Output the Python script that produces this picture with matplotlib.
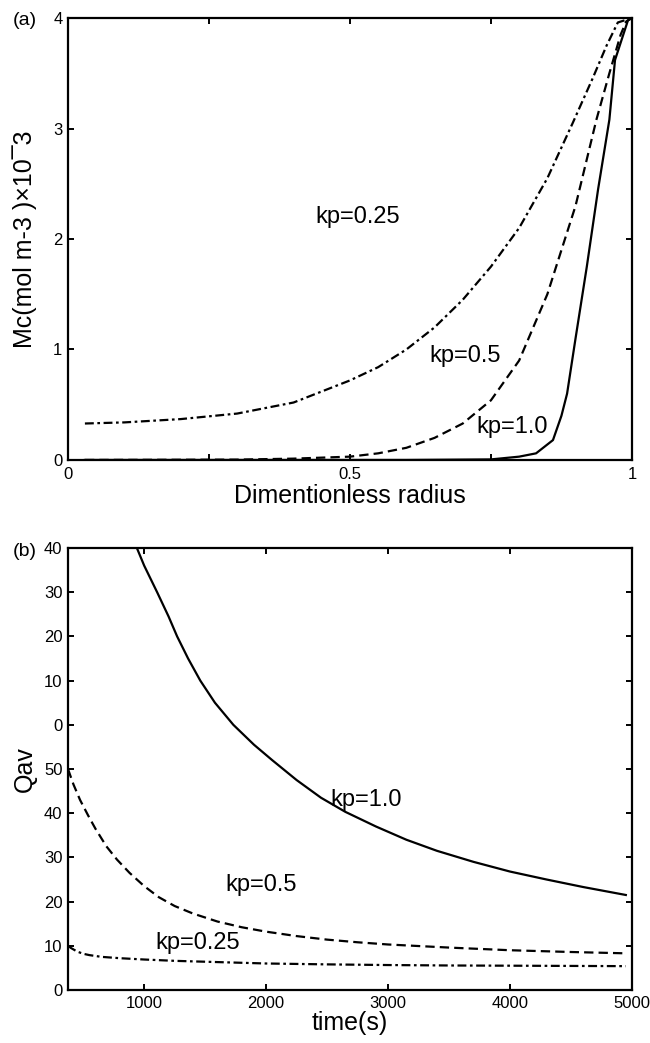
import matplotlib.pyplot as plt

plt.rcParams['font.family'] = ['Liberation Sans', 'DejaVu Sans']

# (a) concentration profiles vs dimensionless radius
r_025 = [0.03, 0.1, 0.2, 0.3, 0.4, 0.5, 0.55, 0.6, 0.65, 0.7, 0.75, 0.8, 0.85,
         0.895, 0.93, 0.955, 0.975, 1.0]
mc_025 = [0.33, 0.34, 0.37, 0.42, 0.52, 0.72, 0.84, 1.0, 1.2, 1.45, 1.75, 2.1, 2.55,
          3.05, 3.45, 3.75, 3.96, 4.0]
r_05 = [0.03, 0.3, 0.4, 0.5, 0.55, 0.6, 0.65, 0.7, 0.75, 0.8, 0.85, 0.9, 0.937,
        0.96, 0.98, 0.99, 1.0]
mc_05 = [0.0, 0.003, 0.012, 0.03, 0.06, 0.11, 0.2, 0.33, 0.54, 0.9, 1.5, 2.3, 3.08,
         3.5, 3.85, 3.97, 4.0]
r_10 = [0.03, 0.6, 0.75, 0.8, 0.83, 0.86, 0.875, 0.885, 0.9, 0.92, 0.94, 0.96, 0.97,
        0.993, 1.0]
mc_10 = [0.0, 0.0, 0.005, 0.03, 0.06, 0.18, 0.4, 0.6, 1.1, 1.75, 2.45, 3.08, 3.62,
         3.98, 4.0]

# (b) Qav vs time (axis units, as drawn)
t_10 = [940, 1000, 1106, 1200, 1270, 1360, 1460, 1580, 1731, 1900, 2050, 2250, 2450,
        2650, 2900, 3150, 3400, 3700, 4000, 4300, 4600, 4950]
q_10 = [100, 96, 90, 84.5, 80, 75, 70, 65, 60, 55.5, 52, 47.5, 43.5,
        40.3, 37, 34, 31.5, 29, 26.8, 25, 23.3, 21.5]
t_05 = [375, 420, 474, 540, 600, 690, 777, 880, 1000, 1120, 1250, 1400, 1600, 1800,
        2000, 2250, 2500, 2750, 3000, 3500, 4000, 4500, 4950]
q_05 = [50, 46.5, 43, 39.5, 36.5, 32.5, 29.5, 26.5, 23.5, 21, 19, 17.3, 15.5, 14.2,
        13.2, 12.2, 11.4, 10.8, 10.3, 9.6, 9.0, 8.6, 8.3]
t_025 = [375, 400, 450, 500, 550, 650, 800, 1000, 1250, 1500, 2000, 2500, 3000, 3500,
         4000, 4500, 4950]
q_025 = [10, 9.5, 8.7, 8.2, 7.9, 7.5, 7.2, 6.9, 6.6, 6.4, 6.0, 5.8, 5.65, 5.55,
         5.5, 5.45, 5.4]

q_ticks = [0, 10, 20, 30, 40, 50, 60, 70, 80, 90, 100]
q_ticklabels = ['0', '10', '20', '30', '40', '50', '0', '10', '20', '30', '40']

dashdot = (0, (4, 1.6, 1.2, 1.6))
dashed = (0, (4.2, 2.3))

fig = plt.figure(figsize=(6.5, 10.43), dpi=100)
ax1 = fig.add_axes([0.1046, 0.559, 0.8676, 0.4237])
ax2 = fig.add_axes([0.1046, 0.0508, 0.8676, 0.4238])

for ax in (ax1, ax2):
    for s in ax.spines.values():
        s.set_linewidth(1.6)
    ax.tick_params(direction='in', top=True, right=True, length=4, width=1.4,
                   labelsize=12)
    ax.tick_params(axis='y', pad=4)
    ax.yaxis.set_label_coords(-0.055, 0.5)

ax1.plot(r_025, mc_025, color='black', lw=1.6, linestyle=dashdot)
ax1.plot(r_05, mc_05, color='black', lw=1.6, linestyle=dashed)
ax1.plot(r_10, mc_10, color='black', lw=1.6)
ax1.set_xlim(0, 1)
ax1.set_ylim(0, 4)
ax1.set_xticks([0, 0.25, 0.5, 0.75, 1])
ax1.set_xticklabels(['0', '', '0.5', '', '1'])
ax1.set_yticks([0, 1, 2, 3, 4])
ax1.tick_params(axis='x', pad=5)
ax1.set_xlabel('Dimentionless radius', fontsize=18)
ax1.xaxis.set_label_coords(0.5, -0.055)
ax1.set_ylabel('Mc(mol m-3 )×10¯3', fontsize=18)
ax1.text(0.438, 2.2, 'kp=0.25', fontsize=17, va='center')
ax1.text(0.64, 0.94, 'kp=0.5', fontsize=17, va='center')
ax1.text(0.725, 0.30, 'kp=1.0', fontsize=17, va='center')
fig.text(0.02, 0.98, '(a)', fontsize=14, va='center')

ax2.plot(t_10, q_10, color='black', lw=1.6)
ax2.plot(t_05, q_05, color='black', lw=1.6, linestyle=dashed)
ax2.plot(t_025, q_025, color='black', lw=1.6, linestyle=dashdot)
ax2.set_xlim(375, 5000)
ax2.set_ylim(0, 100)
ax2.set_xticks([1000, 2000, 3000, 4000, 5000])
ax2.set_yticks(q_ticks)
ax2.set_yticklabels(q_ticklabels)
ax2.tick_params(axis='x', pad=4)
ax2.set_xlabel('time(s)', fontsize=18)
ax2.xaxis.set_label_coords(0.5, -0.048)
ax2.set_ylabel('Qav', fontsize=18)
ax2.text(2528, 42.9, 'kp=1.0', fontsize=17, va='center')
ax2.text(1665, 23.7, 'kp=0.5', fontsize=17, va='center')
ax2.text(1090, 10.6, 'kp=0.25', fontsize=17, va='center')
fig.text(0.02, 0.4717, '(b)', fontsize=14, va='center')

fig.savefig('out.png', dpi=100)
